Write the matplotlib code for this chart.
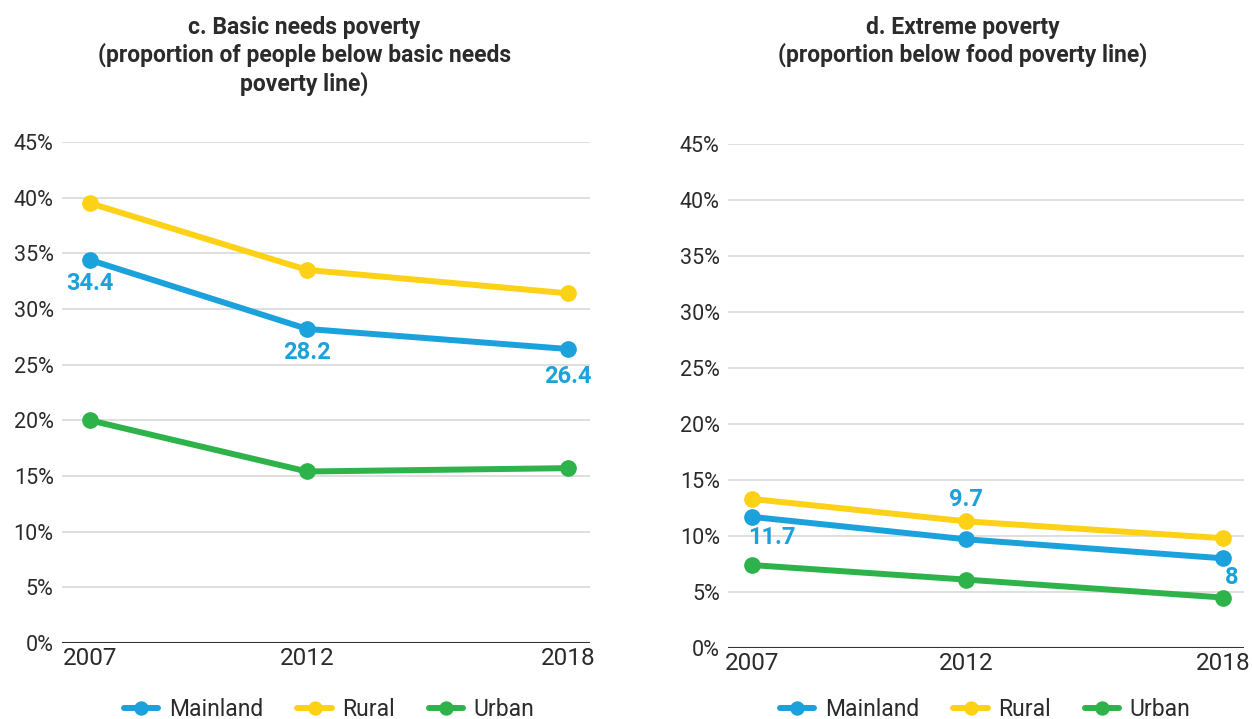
import matplotlib.pyplot as plt

# data
years = [2007, 2012, 2018]
series_names = ["Mainland", "Rural", "Urban"]
basic_mainland = [34.4, 28.2, 26.4]
basic_rural = [39.5, 33.5, 31.4]
basic_urban = [20.0, 15.4, 15.7]
extreme_mainland = [11.7, 9.7, 8.0]
extreme_rural = [13.3, 11.3, 9.8]
extreme_urban = [7.4, 6.1, 4.5]
y_ticks = [0, 5, 10, 15, 20, 25, 30, 35, 40, 45]

colors = ["#1ba1dc", "#fdd116", "#2db34a"]
plt.rcParams['font.family'] = ['Roboto', 'DejaVu Sans']
txt = "#2b2b2b"

fig = plt.figure(figsize=(12.52, 7.19), dpi=100)
ax1 = fig.add_axes([0.0495, 0.1057, 0.4215, 0.697])
ax2 = fig.add_axes([0.5815, 0.0988, 0.4125, 0.7012])


def draw(ax, data, title, labels, legend_x, title_x, x0):
    for vals, name, c in zip(data, series_names, colors):
        ax.plot(years, vals, color=c, lw=4.3, marker='o', ms=11,
                solid_capstyle='round', label=name, zorder=3)
    ax.set_xlim(x0, 2018.5)
    ax.set_ylim(0, 45)
    ax.set_yticks(y_ticks)
    ax.set_yticklabels([f"{v}%" for v in y_ticks])
    ax.set_xticks(years)
    ax.set_xticklabels([str(y) for y in years])
    ax.tick_params(axis='y', length=0, labelsize=15.5, labelcolor=txt, pad=6)
    ax.tick_params(axis='x', length=0, labelsize=17.5, labelcolor=txt, pad=3)
    ax.grid(axis='y', color='#d9d9d9', lw=1.2, zorder=0)
    ax.axhline(0, color='#333333', lw=1.5, zorder=2)
    for s in ax.spines.values():
        s.set_visible(False)
    fig.text(title_x, 0.978, title, ha='center', va='top', fontsize=16.5,
             fontweight='bold', color=txt, linespacing=1.22)
    for i, (dx, dy) in labels:
        ax.annotate(f"{data[0][i]:g}", (years[i], data[0][i]),
                    xytext=(dx, dy), textcoords='offset points',
                    ha='center', va='center', fontsize=17,
                    fontweight='bold', color=colors[0])
    ax.legend(loc='center', bbox_to_anchor=(legend_x, 0.013),
              bbox_transform=fig.transFigure, ncol=3, frameon=False,
              fontsize=16.5, handlelength=1.5, handletextpad=0.45,
              columnspacing=1.5, labelcolor=txt, markerscale=0.85)


draw(ax1, [basic_mainland, basic_rural, basic_urban],
     "c. Basic needs poverty\n(proportion of people below basic needs\npoverty line)",
     [(0, (0, -17)), (1, (0, -17)), (2, (0, -20))], 0.263, 0.243, 2006.36)
draw(ax2, [extreme_mainland, extreme_rural, extreme_urban],
     "d. Extreme poverty\n(proportion below food poverty line)",
     [(0, (14, -15)), (1, (0, 29)), (2, (6, -14))], 0.787, 0.769, 2006.44)

fig.savefig("out.png", dpi=100)
